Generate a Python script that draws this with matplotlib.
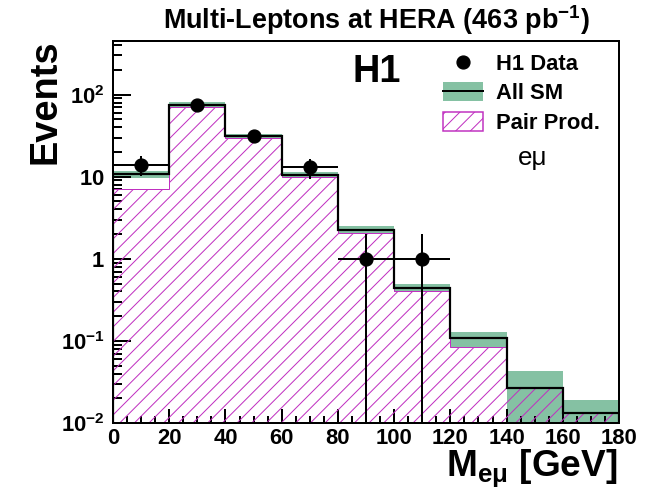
import numpy as np
import matplotlib
matplotlib.use("Agg")
import matplotlib.pyplot as plt
from matplotlib.patches import Patch
from matplotlib.lines import Line2D
from matplotlib.ticker import FixedLocator, LogLocator, NullFormatter, MultipleLocator

# ---------------- data ----------------
bin_edges = [0, 20, 40, 60, 80, 100, 120, 140, 160, 180]
sm_values = [10.8, 75.8, 31.6, 10.6, 2.24, 0.437, 0.107, 0.0268, 0.0132]
sm_upper = [11.9, 80.5, 33.6, 11.5, 2.5, 0.49, 0.13, 0.043, 0.019]
sm_lower = [9.6, 70.5, 29.6, 9.8, 2.0, 0.39, 0.084, 0.005, 0.005]
pair_values = [7.1, 71.0, 29.7, 9.9, 2.05, 0.40, 0.085, 0.0268, 0.0132]
data_x = [10, 30, 50, 70, 90, 110]
data_y = [14, 74, 31, 13, 1, 1]
ytick_vals = [0.01, 0.1, 1, 10, 100]
ytick_labels = [r"$\mathbf{10^{-2}}$", r"$\mathbf{10^{-1}}$", r"$\mathbf{1}$",
                r"$\mathbf{10}$", r"$\mathbf{10^{2}}$"]

DPI = 88
PX = 72.0 / DPI  # points per pixel
MAG = "#c030c0"

plt.rcParams["font.family"] = ["Liberation Sans", "DejaVu Sans"]
plt.rcParams["mathtext.fontset"] = "custom"
plt.rcParams["mathtext.rm"] = "Liberation Sans"
plt.rcParams["mathtext.bf"] = "Liberation Sans:bold"
plt.rcParams["mathtext.it"] = "Liberation Sans:italic"
plt.rcParams["hatch.linewidth"] = 1.0 * PX
plt.rcParams["hatch.color"] = MAG

fig = plt.figure(figsize=(660 / DPI, 498 / DPI), dpi=DPI)
ax = fig.add_axes([113 / 660, 75 / 498, (619 - 113) / 660, (423 - 41) / 498])

edges = np.array(bin_edges, dtype=float)
green = "#85c1a3"

# SM uncertainty band
for i in range(len(sm_values)):
    ax.fill_between([edges[i], edges[i + 1]], sm_lower[i], sm_upper[i],
                    color=green, lw=0, zorder=1)

# Pair production hatched histogram
pv = np.array(pair_values)
ax.fill_between(edges, np.r_[pv, pv[-1]], 1e-4, step="post", facecolor="none",
                edgecolor=MAG, hatch="//", lw=0, zorder=2)
ax.stairs(pv, edges, color=MAG, lw=1.0 * PX, zorder=2)

# SM line
ax.stairs(np.array(sm_values), edges, color="black", lw=2.2 * PX, zorder=3)

# data
dy = np.array(data_y, dtype=float)
err = np.sqrt(dy)
lo = np.minimum(err, dy - 1e-4)
ax.errorbar(data_x, dy, yerr=[lo, err], xerr=10, fmt="o", color="black",
            ms=13 * PX, lw=2.0 * PX, capsize=0, zorder=4)

ax.set_yscale("log")
ax.set_xlim(0, 180)
ax.set_ylim(0.01, 450)

ax.xaxis.set_major_locator(MultipleLocator(20))
ax.xaxis.set_minor_locator(MultipleLocator(5))
ax.yaxis.set_major_locator(FixedLocator(ytick_vals))
ax.set_yticklabels(ytick_labels)
ax.yaxis.set_minor_locator(LogLocator(base=10, subs=np.arange(2, 10)))
ax.yaxis.set_minor_formatter(NullFormatter())

ax.tick_params(axis="both", which="major", direction="in", width=2 * PX,
               labelsize=22 * PX, top=False, right=False)
ax.tick_params(axis="x", which="major", length=14 * PX, pad=5 * PX)
ax.tick_params(axis="y", which="major", length=18 * PX, pad=8 * PX)
ax.tick_params(axis="x", which="minor", direction="in", length=7 * PX, width=2 * PX, top=False)
ax.tick_params(axis="y", which="minor", direction="in", length=9 * PX, width=2 * PX, right=False)
for lab in ax.get_xticklabels():
    lab.set_fontweight("bold")
for s in ax.spines.values():
    s.set_linewidth(2 * PX)

# labels
fig.text(376 / 660, 1 - 20 / 498, r"Multi-Leptons at HERA (463 pb$^{\mathbf{-1}}$)",
         ha="center", va="center", fontsize=27 * PX, fontweight="bold")
fig.text(46 / 660, 1 - 39 / 498, "Events", rotation=90, ha="center", va="top",
         fontsize=38 * PX, fontweight="bold")
fig.text(617 / 660, 1 - 468 / 498, r"M$_{\mathbf{e\mu}}$ [GeV]", ha="right", va="center",
         fontsize=37 * PX, fontweight="bold")

fig.text(377 / 660, 1 - 72 / 498, "H1", ha="center", va="center",
         fontsize=38 * PX, fontweight="bold")
fig.text(533 / 660, 1 - 158 / 498, "eμ", ha="center", va="center",
         fontsize=26 * PX)

handles = [
    Line2D([], [], marker="o", color="black", ls="none", ms=13 * PX),
    (Patch(facecolor=green, edgecolor="none"), Line2D([], [], color="black", lw=2 * PX)),
    Patch(facecolor="none", edgecolor=MAG, hatch="//", lw=1.5 * PX),
]
leg = ax.legend(handles, ["H1 Data", "All SM", "Pair Prod."], loc="upper left",
                bbox_to_anchor=((443 - 113) / 506, 1 - (53 - 41) / 382),
                frameon=False, prop={"weight": "bold", "size": 22 * PX},
                handlelength=1.82, handleheight=0.95, handletextpad=0.6,
                labelspacing=0.33, borderaxespad=0, borderpad=0)

fig.savefig("out.png", dpi=DPI)
